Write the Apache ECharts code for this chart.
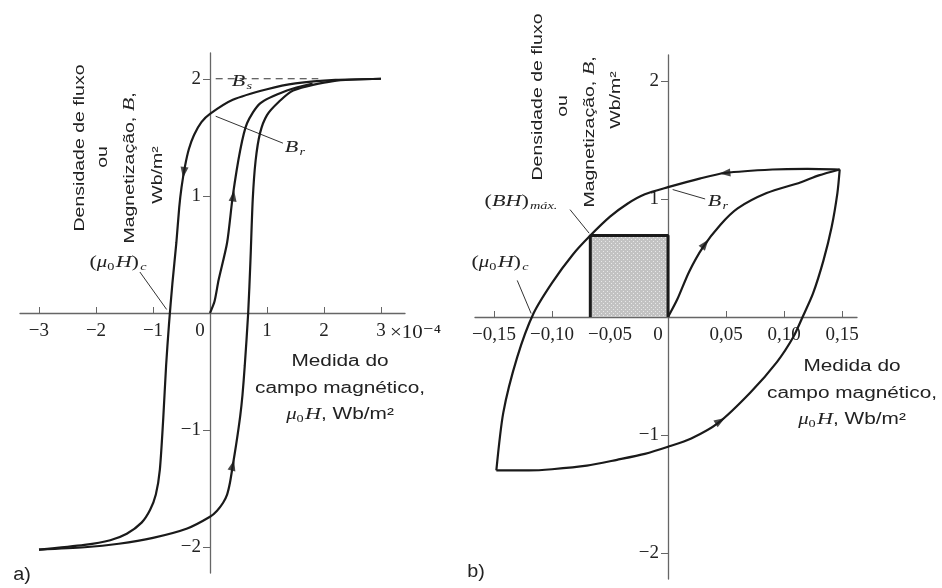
<!DOCTYPE html>
<html>
<head>
<meta charset="utf-8">
<script src="https://cdn.jsdelivr.net/npm/echarts@6/dist/echarts.min.js"></script>
<style>html,body{margin:0;background:#fff}#chart{width:942px;height:588px}</style>
</head>
<body>
<div id="chart"></div>
<script>
// (a) H em unidades de 1e-4 Wb/m2, B em Wb/m2
const ticksHa = [-3, -2, -1, 0, 1, 2, 3];
const ticksBa = [-2, -1, 1, 2];
const upperA = [[3, 2], [2.2, 1.99], [1.5, 1.96], [1.0, 1.91], [0.4, 1.82], [0, 1.7], [-0.15, 1.63], [-0.28, 1.52], [-0.37, 1.4], [-0.44, 1.25], [-0.5, 1.07], [-0.54, 0.9], [-0.59, 0.6], [-0.66, 0.25], [-0.72, -0.1], [-0.77, -0.45], [-0.82, -0.9], [-0.88, -1.34], [-0.95, -1.55], [-1.05, -1.68], [-1.2, -1.79], [-1.46, -1.885], [-1.75, -1.94], [-2.2, -1.98], [-3, -2.02]];
const lowerA = [[-3, -2.02], [-2.2, -2.0], [-1.6, -1.97], [-1.0, -1.92], [-0.4, -1.84], [0, -1.74], [0.12, -1.69], [0.23, -1.62], [0.3, -1.55], [0.35, -1.45], [0.4, -1.3], [0.46, -1.12], [0.53, -0.88], [0.57, -0.7], [0.61, -0.45], [0.67, 0], [0.71, 0.45], [0.75, 0.97], [0.8, 1.3], [0.88, 1.54], [1.0, 1.69], [1.2, 1.8], [1.46, 1.9], [2.16, 1.98], [3, 2]];
const initA = [[0, 0], [0.08, 0.1], [0.15, 0.28], [0.3, 0.6], [0.4, 1.0], [0.53, 1.39], [0.65, 1.62], [0.88, 1.79], [1.35, 1.9], [1.8, 1.96]];
const arrowsA = [[-0.46, 1.2, 172], [0.41, 1.0, -8], [0.4, -1.3, -14]];
const satA = [[0.1, 2], [1.9, 2]];
const brLeaderA = [[0.1, 1.68], [1.28, 1.45]];
const hcLeaderA = [[-1.23, 0.35], [-0.76, 0.03]];

// (b)
const ticksHb = [-0.15, -0.10, -0.05, 0, 0.05, 0.10, 0.15];
const ticksBb = [-2, -1, 1, 2];
const upperB = [[0.148, 1.25], [0.12, 1.255], [0.09, 1.25], [0.049, 1.22], [0.028, 1.175], [0, 1.1], [-0.02, 1.04], [-0.035, 0.96], [-0.05, 0.85], [-0.067, 0.69], [-0.082, 0.53], [-0.1, 0.29], [-0.116, 0.03], [-0.13, -0.34], [-0.142, -0.81], [-0.148, -1.3]];
const lowerB = [[-0.148, -1.3], [-0.12, -1.3], [-0.1, -1.29], [-0.07, -1.26], [-0.044, -1.21], [-0.02, -1.16], [0, -1.1], [0.02, -1.03], [0.043, -0.9], [0.071, -0.64], [0.094, -0.38], [0.108, -0.17], [0.116, 0], [0.125, 0.2], [0.134, 0.48], [0.141, 0.76], [0.146, 1.05], [0.148, 1.25]];
const initB = [[0, 0], [0.008, 0.15], [0.018, 0.38], [0.03, 0.59], [0.045, 0.78], [0.06, 0.92], [0.085, 1.05], [0.114, 1.14], [0.13, 1.2], [0.148, 1.25]];
const bhMax = [[-0.067, 0], [-0.067, 0.69], [0, 0.69], [0, 0]];
const arrowsB = [[0.049, 1.22, 96], [0.032, 0.62, -38], [0.045, -0.88, -58]];
const bhLeaderB = [[-0.0845, 0.91], [-0.068, 0.71]];
const hcLeaderB = [[-0.130, 0.31], [-0.118, 0.03]];
const brLeaderB = [[0.004, 1.08], [0.032, 1.0]];

const serif = '"Liberation Serif", "DejaVu Serif", serif';
const sans = '"Liberation Sans", Arial, sans-serif';
const ink = '#1a1a1a';
const axisGray = '#666';

const pat = document.createElement('canvas');
pat.width = 4; pat.height = 4;
const pc = pat.getContext('2d');
pc.fillStyle = '#c2c2c2'; pc.fillRect(0, 0, 4, 4);
pc.fillStyle = '#e8e8e8'; pc.fillRect(1, 1, 1, 1); pc.fillRect(3, 3, 1, 1);

const fmtA = v => v === 0 ? '{z|0}' : v < 0 ? '−' + (-v) : String(v);
const fmtB = v => v === 0 ? '{z|0}' : (v < 0 ? '−' : '') + Math.abs(v).toFixed(2).replace('.', ',');
const tickRich = { z: { fontFamily: serif, fontSize: 19, color: '#222', padding: [0, 20, 0, 0] } };

function xAxis(idx, min, max, ticks, fmt, offset) {
  return {
    type: 'value', gridIndex: idx, min, max, position: 'bottom', offset,
    axisLine: { onZero: false, lineStyle: { color: axisGray, width: 1.3 } },
    axisTick: { customValues: ticks, inside: true, length: 6, lineStyle: { color: axisGray } },
    axisLabel: { customValues: ticks, formatter: fmt, rich: tickRich, margin: 9, fontFamily: serif, fontSize: 19, color: '#222' },
    splitLine: { show: false }
  };
}
function yAxis(idx, ticks, fmt, offset) {
  return {
    type: 'value', gridIndex: idx, min: -2.22, max: 2.22, position: 'left', offset,
    axisLine: { onZero: false, lineStyle: { color: axisGray, width: 1.3 } },
    axisTick: { customValues: ticks, length: 7, lineStyle: { color: axisGray } },
    axisLabel: { customValues: ticks, formatter: fmt, margin: 9, fontFamily: serif, fontSize: 19, color: '#222' },
    splitLine: { show: false }
  };
}
function curve(idx, data, extra) {
  return Object.assign({
    type: 'line', xAxisIndex: idx, yAxisIndex: idx, data, showSymbol: false,
    smooth: 0.25, lineStyle: { color: ink, width: 2.2 }, z: 3
  }, extra || {});
}
function leader(idx, data) {
  return { type: 'line', xAxisIndex: idx, yAxisIndex: idx, data, showSymbol: false,
    lineStyle: { color: '#333', width: 1 }, z: 2 };
}
function arrows(idx, data) {
  return { type: 'scatter', xAxisIndex: idx, yAxisIndex: idx, data, symbol: 'triangle',
    symbolSize: [8, 11], symbolRotate: v => v[2], itemStyle: { color: ink }, z: 4 };
}

const rich = {
  i: { fontFamily: serif, fontStyle: 'italic', fontSize: 17, color: '#222' },
  n: { fontFamily: serif, fontSize: 17, color: '#222' },
  s: { fontFamily: serif, fontStyle: 'italic', fontSize: 11, color: '#222', verticalAlign: 'bottom', padding: [9, 0, 0, 1] },
  g: { fontFamily: serif, fontStyle: 'italic', fontSize: 16, color: '#222' },
  z: { fontFamily: serif, fontSize: 11, color: '#222', padding: [8, 1, 0, 0] },
  t: { fontFamily: sans, fontSize: 16, color: '#222' },
  ti: { fontFamily: serif, fontStyle: 'italic', fontSize: 17, color: '#222' }
};
function txt(x, y, text, opt) {
  opt = opt || {};
  const el = { type: 'text', x, y, silent: true, scaleX: opt.scaleX || 1.3,
    style: Object.assign({ text, rich, fontFamily: sans, fontSize: 16, fill: '#222', align: 'center', verticalAlign: 'middle' }, opt.style || {}) };
  if (opt.rotation !== undefined) el.rotation = opt.rotation;
  return el;
}
const up = { rotation: Math.PI / 2, style: { fontSize: 15 } };

const chart = echarts.init(document.getElementById('chart'));
chart.setOption({
  animation: false,
  backgroundColor: '#fff',
  grid: [
    { left: 20, top: 53, width: 385, height: 520, containLabel: false },
    { left: 475, top: 55, width: 382, height: 524, containLabel: false }
  ],
  xAxis: [xAxis(0, -3.333, 3.421, ticksHa, fmtA, -260), xAxis(1, -0.1664, 0.1629, ticksHb, fmtB, -262)],
  yAxis: [yAxis(0, ticksBa, fmtA, -190), yAxis(1, ticksBb, fmtA, -193)],
  series: [
    curve(0, satA, { smooth: false, lineStyle: { color: '#333', width: 1.2, type: [7, 5] }, z: 2 }),
    curve(0, upperA), curve(0, lowerA), curve(0, initA),
    leader(0, brLeaderA), leader(0, hcLeaderA), arrows(0, arrowsA),
    curve(1, bhMax, { smooth: false, lineStyle: { color: ink, width: 3 },
      areaStyle: { color: { image: pat, repeat: 'repeat' }, opacity: 1 }, z: 1 }),
    curve(1, upperB), curve(1, lowerB), curve(1, initB),
    leader(1, bhLeaderB), leader(1, hcLeaderB), leader(1, brLeaderB), arrows(1, arrowsB)
  ],
  graphic: [
    // (a)
    txt(80, 148, 'Densidade de fluxo', up),
    txt(103, 157, 'ou', up),
    txt(130, 168, 'Magnetização, {ti|B},', up),
    txt(158, 175, 'Wb/m²', up),
    txt(340, 362, 'Medida do'),
    txt(340, 389, 'campo magnético,'),
    txt(340, 415, '{g|μ}{z|0}{ti|H}{t|, Wb/m²}'),
    txt(390, 333, '×10⁻⁴', { scaleX: 1.1, style: { fontFamily: serif, fontSize: 19, align: 'left' } }),
    txt(242, 82, '{i|B}{s|s}', { style: { backgroundColor: '#fff', padding: [0, 2] } }),
    txt(295, 148, '{i|B}{s|r}'),
    txt(118, 263, '{n|(}{g|μ}{z|0}{ti|H}{n|)}{s|c}'),
    txt(22, 575, 'a)', { scaleX: 1.1, style: { fontSize: 18 } }),
    // (b)
    txt(538, 97, 'Densidade de fluxo', up),
    txt(563, 106, 'ou', up),
    txt(590, 132, 'Magnetização, {ti|B},', up),
    txt(616, 100, 'Wb/m²', up),
    txt(852, 367, 'Medida do'),
    txt(852, 394, 'campo magnético,'),
    txt(852, 420, '{g|μ}{z|0}{ti|H}{t|, Wb/m²}'),
    txt(718, 202, '{i|B}{s|r}'),
    txt(521, 202, '{n|(}{ti|BH}{n|)}{s|máx.}'),
    txt(500, 263, '{n|(}{g|μ}{z|0}{ti|H}{n|)}{s|c}'),
    txt(476, 572, 'b)', { scaleX: 1.1, style: { fontSize: 18 } })
  ]
});
</script>
</body>
</html>
